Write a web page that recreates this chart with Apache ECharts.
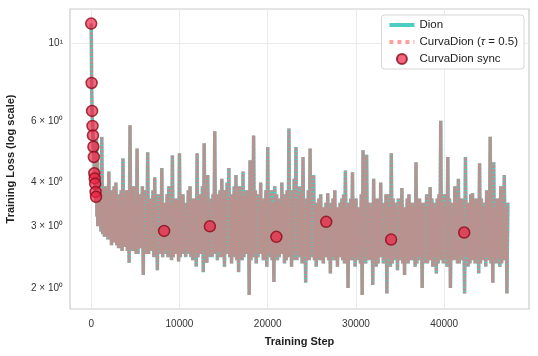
<!DOCTYPE html>
<html>
<head>
<meta charset="utf-8">
<script src="https://cdn.jsdelivr.net/npm/echarts@6/dist/echarts.min.js"></script>
<style>
  html, body { margin: 0; padding: 0; background: #fff; }
  #chart { width: 538px; height: 356px; }
</style>
</head>
<body>
<div id="chart"></div>
<script>
// early descent, logged every 25 steps
const earlySteps = [0, 25, 50, 75, 100, 125, 150, 175, 200, 225, 250, 275, 300, 325, 350, 375, 400, 425, 450, 475, 500, 525, 550, 600, 650, 700, 750];
const earlyLoss = [11.36, 10.1, 7.69, 6.9, 6.40, 6.1, 5.80, 5.9, 5.45, 5.3, 5.06, 4.95, 4.73, 4.6, 4.25, 4.4, 4.11, 4.2, 3.97, 3.7, 3.76, 3.5, 3.64, 5.3, 3.2, 4.6, 3.0];

// afterwards the loss swings between peaks (800 + 200*k) and troughs (900 + 200*k)
const bandStart = 800;
const bandStep = 200;
const peakLoss = [
  4.1, 3.7, 5.4, 3.8, 3.9, 3.6, 4.3, 3.7, 3.8, 3.9,
  4.0, 3.6, 3.7, 3.8, 4.69, 3.6, 3.8, 3.7, 5.83, 3.9,
  3.9, 3.5, 5.0, 3.7, 3.6, 3.9, 3.8, 3.5, 4.88, 3.6,
  3.6, 3.8, 4.14, 3.5, 3.7, 3.6, 4.4, 3.5, 3.5, 3.7,
  3.9, 3.5, 4.78, 3.6, 3.6, 3.5, 4.85, 3.7, 3.7, 3.5,
  3.5, 3.8, 3.9, 3.5, 3.6, 3.6, 4.85, 3.5, 3.7, 3.9,
  5.18, 3.6, 4.2, 3.5, 3.6, 3.7, 5.6, 3.5, 3.7, 3.8,
  4.1, 3.6, 3.8, 4.0, 4.4, 3.6, 3.7, 3.9, 4.2, 3.6,
  3.9, 3.7, 4.3, 3.6, 3.8, 3.7, 4.63, 3.6, 5.45, 3.8,
  3.7, 3.6, 4.0, 3.5, 3.6, 3.8, 5.05, 3.6, 3.8, 3.5,
  3.9, 3.7, 3.6, 3.5, 4.0, 3.6, 3.7, 3.8, 5.7, 3.6,
  3.8, 4.1, 5.05, 3.6, 3.9, 3.7, 4.73, 3.5, 3.6, 3.8,
  5.0, 3.6, 4.2, 3.4, 3.5, 3.6, 3.7, 3.4, 3.4, 3.5,
  3.73, 3.4, 3.5, 3.6, 3.8, 3.4, 3.4, 3.5, 3.6, 3.7,
  4.33, 3.4, 3.5, 3.6, 4.28, 3.5, 3.6, 3.4, 3.4, 3.7,
  4.94, 3.6, 4.8, 3.5, 3.5, 3.4, 4.1, 3.6, 3.6, 3.4,
  4.0, 3.5, 3.5, 3.7, 3.7, 3.4, 4.85, 3.6, 3.5, 3.4,
  3.6, 3.5, 3.86, 3.4, 3.4, 3.6, 3.7, 3.5, 3.5, 3.4,
  4.57, 3.6, 3.6, 3.4, 3.5, 3.5, 3.7, 3.4, 3.88, 3.6,
  3.5, 3.4, 3.6, 3.7, 6.0, 3.5, 3.7, 3.4, 4.73, 3.6,
  3.5, 3.4, 3.9, 3.5, 4.1, 3.6, 3.6, 3.4, 4.73, 3.5,
  3.5, 3.7, 3.73, 3.4, 3.6, 3.5, 4.54, 3.6, 3.5, 3.4,
  3.8, 3.6, 5.4, 3.5, 4.57, 3.4, 3.6, 3.6, 3.9, 3.5,
  4.2, 3.4, 3.5
];
const troughLoss = [
  3.0, 2.9, 2.85, 2.8, 2.8, 2.75, 2.75, 2.65, 2.7, 2.7,
  2.65, 2.6, 2.6, 2.55, 2.65, 2.62, 2.55, 2.36, 2.6, 2.55,
  2.55, 2.5, 2.5, 2.6, 2.6, 2.18, 2.55, 2.5, 2.5, 2.55,
  2.6, 2.45, 2.5, 2.25, 2.55, 2.5, 2.45, 2.55, 2.5, 2.45,
  2.55, 2.4, 2.45, 2.5, 2.5, 2.38, 2.45, 2.55, 2.5, 2.45,
  2.55, 2.5, 2.45, 2.4, 2.5, 2.3, 2.45, 2.5, 2.5, 2.22,
  2.55, 2.36, 2.5, 2.45, 2.45, 2.5, 2.5, 2.4, 2.55, 2.45,
  2.45, 2.3, 2.5, 2.5, 2.45, 2.35, 2.5, 2.45, 2.4, 2.22,
  2.5, 2.4, 2.45, 2.5, 2.5, 1.91, 2.4, 2.45, 2.5, 2.35,
  2.45, 2.5, 2.5, 2.4, 2.45, 2.3, 2.5, 2.45, 2.4, 2.08,
  2.5, 2.4, 2.45, 2.5, 2.5, 2.35, 2.4, 2.45, 2.45, 2.3,
  2.5, 2.4, 2.4, 2.5, 2.45, 2.35, 2.5, 2.07, 2.4, 2.4,
  2.45, 2.45, 2.4, 2.3, 2.45, 2.4, 2.4, 2.35, 2.45, 2.45,
  2.4, 2.2, 2.45, 2.4, 2.4, 2.3, 2.45, 2.45, 2.4, 2.35,
  2.45, 2.0, 2.4, 2.4, 2.45, 2.3, 2.4, 2.45, 2.35, 1.91,
  2.45, 2.35, 2.4, 2.4, 2.45, 2.04, 2.4, 2.3, 2.35, 2.45,
  2.45, 2.35, 2.4, 1.93, 2.45, 2.3, 2.35, 2.4, 2.45, 2.25,
  2.4, 2.45, 2.35, 2.18, 2.45, 2.35, 2.4, 2.4, 2.45, 2.3,
  2.35, 2.45, 2.4, 2.0, 2.45, 2.35, 2.35, 2.4, 2.4, 2.3,
  2.45, 2.2, 2.35, 2.45, 2.4, 2.35, 2.45, 2.3, 2.35, 2.0,
  2.4, 2.4, 2.45, 2.35, 2.35, 2.45, 2.4, 1.93, 2.45, 2.3,
  2.35, 2.4, 2.4, 2.35, 2.45, 2.2, 2.35, 2.45, 2.4, 2.3,
  2.45, 2.4, 2.35, 2.07, 2.4, 2.35, 2.45, 2.3, 2.35, 2.4,
  2.4, 1.93
];

const syncSteps = [0, 50, 100, 150, 200, 250, 300, 350, 400, 450, 500, 550, 8260, 13450, 20980, 26630, 33980, 42260];
const syncLoss = [11.36, 7.69, 6.40, 5.80, 5.45, 5.06, 4.73, 4.25, 4.11, 3.97, 3.76, 3.64, 2.91, 3.0, 2.8, 3.09, 2.75, 2.88];

const xTicks = [0, 10000, 20000, 30000, 40000];
const yTicks = [2, 3, 4, 6, 10];

// build the loss curve
const lossData = earlySteps.map((s, i) => [s, earlyLoss[i]]);
peakLoss.forEach((v, i) => {
  lossData.push([bandStart + bandStep * i, v]);
  if (i < troughLoss.length) {
    lossData.push([bandStart + bandStep * i + bandStep / 2, troughLoss[i]]);
  }
});
const syncData = syncSteps.map((s, i) => [s, syncLoss[i]]);

const font = 'Liberation Sans, Arial, sans-serif';
const chart = echarts.init(document.getElementById('chart'));

chart.setOption({
  animation: false,
  backgroundColor: '#fff',
  textStyle: { fontFamily: font },
  grid: {
    left: 70, right: 9, top: 9, bottom: 47,
    containLabel: false,
    outerBoundsMode: 'none',
    show: true, borderColor: '#cccccc', borderWidth: 1.2
  },
  legend: {
    orient: 'vertical',
    right: 14, top: 15,
    itemWidth: 25, itemHeight: 10, itemGap: 5,
    padding: [4, 6, 4, 6],
    borderColor: '#d6d6d6', borderWidth: 1, borderRadius: 3,
    backgroundColor: '#fff',
    textStyle: { fontSize: 11.5, color: '#222', fontFamily: font, rich: { i: { fontStyle: 'italic', fontSize: 11.5, fontFamily: font } } },
    formatter: (name) => name === 'CurvaDion (τ = 0.5)' ? 'CurvaDion ({i|τ} = 0.5)' : name,
    data: [
      { name: 'Dion', itemStyle: { opacity: 0 }, lineStyle: { width: 4, color: '#4ecdc4' } },
      { name: 'CurvaDion (τ = 0.5)', itemStyle: { opacity: 0 }, lineStyle: { width: 4, color: '#ffa0a0', opacity: 1, type: [4, 4] } },
      { name: 'CurvaDion sync', icon: 'circle' }
    ]
  },
  xAxis: {
    type: 'value',
    min: -2400, max: 49600,
    name: 'Training Step',
    nameLocation: 'middle',
    nameGap: 27,
    nameTextStyle: { fontSize: 11, fontWeight: 'bold', color: '#222', fontFamily: font },
    axisLine: { show: false },
    axisTick: { show: false, customValues: xTicks },
    axisLabel: { customValues: xTicks, fontSize: 10, color: '#333', margin: 10, formatter: (v) => String(v) },
    splitLine: { show: true, lineStyle: { color: '#ebebeb', width: 1 } }
  },
  yAxis: {
    type: 'log',
    logBase: 10,
    min: 1.743, max: 12.5,
    name: 'Training Loss (log scale)',
    nameLocation: 'middle',
    nameGap: 54,
    nameTextStyle: { fontSize: 11, fontWeight: 'bold', color: '#222', fontFamily: font },
    axisLine: { show: false },
    axisTick: { show: false, customValues: [10] },
    axisLabel: {
      customValues: yTicks,
      fontSize: 10, color: '#333', margin: 7,
      formatter: (v) => {
        const r = Math.round(v);
        return r === 10 ? '10¹' : r + ' × 10⁰';
      }
    },
    splitLine: { show: true, lineStyle: { color: '#ebebeb', width: 1 } }
  },
  series: [
    {
      name: 'Dion',
      type: 'line',
      data: lossData,
      symbol: 'none',
      sampling: 'none',
      lineStyle: { color: '#4ecdc4', width: 3.5 },
      itemStyle: { color: '#4ecdc4' },
      z: 2
    },
    {
      name: 'CurvaDion (τ = 0.5)',
      type: 'line',
      data: lossData,
      symbol: 'none',
      sampling: 'none',
      lineStyle: { color: '#ff6b6b', opacity: 0.6, width: 3.2, type: [3, 1.2] },
      itemStyle: { color: 'rgba(255,107,107,0.6)' },
      z: 3
    },
    {
      name: 'CurvaDion sync',
      type: 'scatter',
      data: syncData,
      symbol: 'circle',
      symbolSize: 11,
      itemStyle: { color: 'rgba(238,34,68,0.85)', borderColor: '#8b0a1a', borderWidth: 1.5 },
      z: 4
    }
  ]
});
</script>
</body>
</html>
